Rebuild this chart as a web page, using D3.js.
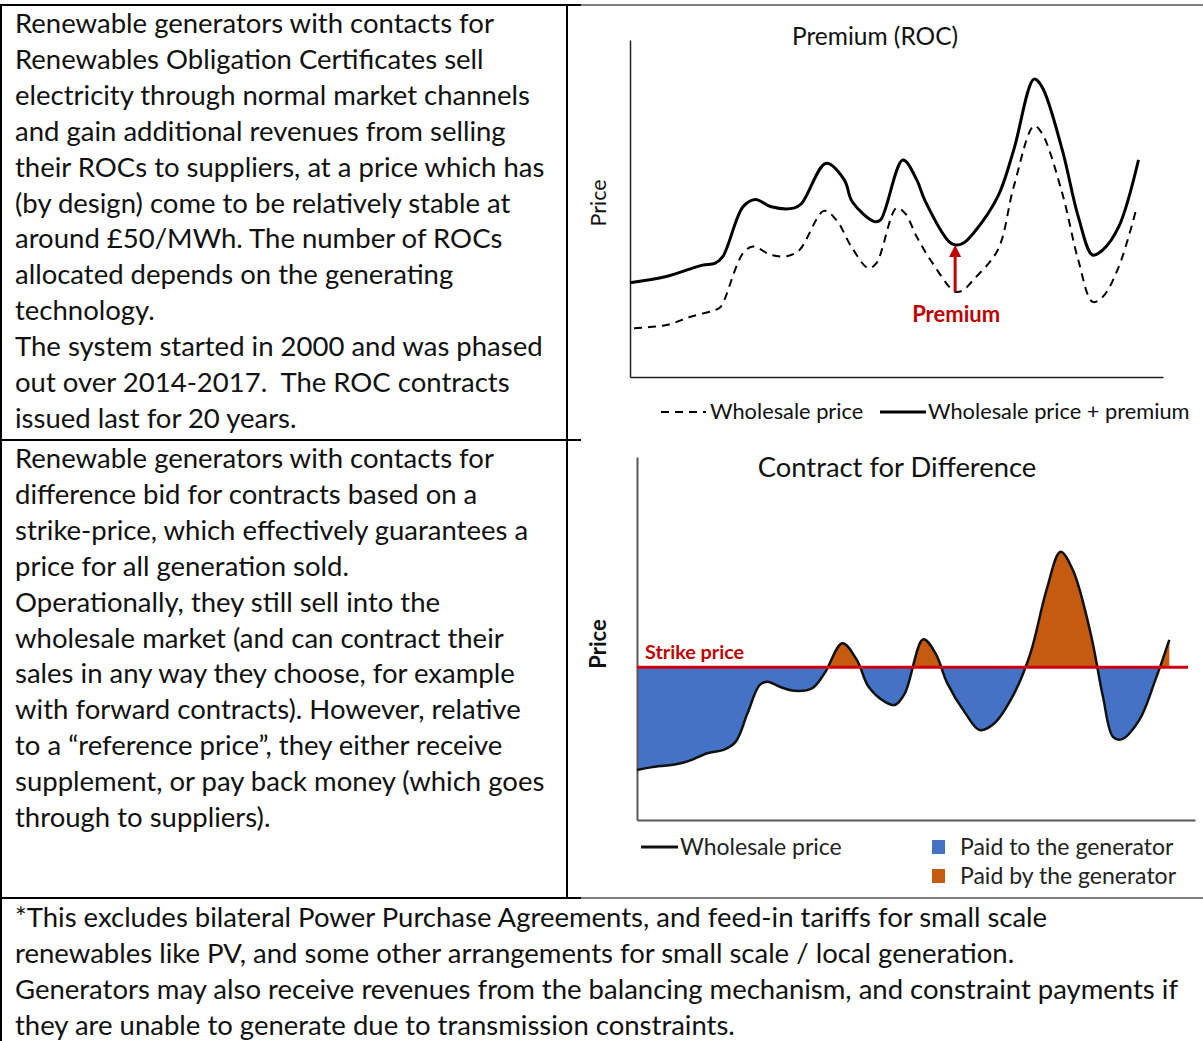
<!DOCTYPE html>
<html>
<head>
<meta charset="utf-8">
<script src="https://cdn.jsdelivr.net/npm/d3@7"></script>
<style>
  body { margin: 0; background: #fff; }
  text { font-family: Lato, "Open Sans", sans-serif; }
</style>
</head>
<body>
<script>
var width = 1203;
var height = 1041;

// --- text of the table cells ---
var rocText = [
  "Renewable generators with contacts for",
  "Renewables Obligation Certificates sell",
  "electricity through normal market channels",
  "and gain additional revenues from selling",
  "their ROCs to suppliers, at a price which has",
  "(by design) come to be relatively stable at",
  "around £50/MWh. The number of ROCs",
  "allocated depends on the generating",
  "technology.",
  "The system started in 2000 and was phased",
  "out over 2014-2017.  The ROC contracts",
  "issued last for 20 years."
];
var cfdText = [
  "Renewable generators with contacts for",
  "difference bid for contracts based on a",
  "strike-price, which effectively guarantees a",
  "price for all generation sold.",
  "Operationally, they still sell into the",
  "wholesale market (and can contract their",
  "sales in any way they choose, for example",
  "with forward contracts). However, relative",
  "to a \u201creference price\u201d, they either receive",
  "supplement, or pay back money (which goes",
  "through to suppliers)."
];
var noteText = [
  "*This excludes bilateral Power Purchase Agreements, and feed-in tariffs for small scale",
  "renewables like PV, and some other arrangements for small scale / local generation.",
  "Generators may also receive revenues from the balancing mechanism, and constraint payments if",
  "they are unable to generate due to transmission constraints."
];

// --- ROC chart series (time 0-100, price 0-100) ---
var rocPremiumTime = [0, 6.8, 13.6, 15.9, 17.4, 21.2, 23.5, 26.5, 30.7, 32.2, 36.8, 40.2, 41.7, 45.9, 47.0, 51.2, 53.8, 55.3, 59.9, 61.0, 62.5, 64.4, 69.0, 72.0, 75.8, 77.3, 81.1, 84.1, 86.8, 88.7, 91.7, 95.4];
var rocPremiumPrice = [28.0, 29.8, 33.2, 33.7, 35.7, 50.5, 52.7, 50.5, 50.1, 51.5, 63.4, 58.5, 52.0, 46.1, 46.6, 64.4, 58.5, 52.5, 40.1, 39.2, 39.7, 42.6, 53.5, 67.4, 88.4, 86.1, 67.4, 47.6, 36.2, 37.7, 44.6, 64.4];
var rocWholesaleTime = [0.75, 6.8, 11.4, 16.7, 17.4, 21.2, 23.1, 26.5, 29.6, 31.8, 36.4, 38.7, 41.7, 44.7, 46.2, 50.0, 51.6, 53.8, 56.8, 61.0, 62.5, 64.4, 69.0, 72.0, 75.8, 77.3, 81.1, 84.1, 86.8, 88.7, 91.7, 95.1];
var rocWholesalePrice = [14.5, 15.4, 17.9, 20.4, 21.8, 36.7, 38.7, 36.2, 35.9, 37.7, 49.3, 46.6, 38.2, 32.3, 33.7, 50.1, 48.6, 41.6, 33.7, 25.3, 25.8, 28.8, 37.7, 56.5, 74.5, 72.3, 54.5, 34.7, 22.3, 23.8, 32.7, 50.5];
var premiumArrow = { time: 61.0, from: 25.3, to: 39.2 };

// --- CfD chart series ---
var cfdTime = [0, 2.5, 7.2, 9.7, 12.6, 15.5, 17.7, 19.8, 22.0, 23.4, 25.6, 28.2, 31.4, 33.6, 36.8, 39.4, 41.5, 44.4, 46.2, 48.0, 51.3, 53.5, 55.6, 58.9, 61.4, 64.0, 67.6, 70.5, 73.4, 75.9, 78.1, 81.3, 83.5, 85.3, 86.8, 90.0, 92.9, 95.4];
var cfdPrice = [13.8, 14.5, 15.4, 16.5, 18.4, 19.3, 21.6, 29.4, 37.2, 38.1, 36.7, 35.6, 36.3, 40.4, 48.7, 44.1, 36.7, 32.6, 31.7, 34.9, 49.8, 45.9, 37.7, 29.3, 24.8, 26.6, 34.9, 45.9, 63.4, 73.9, 68.9, 51.4, 34.0, 22.9, 22.2, 27.5, 38.6, 49.6];
var strikePrice = 42.1;

var svg = d3.select('body')
  .append('svg')
  .attr('width', width)
  .attr('height', height);

// --- table grid ---
var grid = svg.append('g').attr('stroke', '#000');
grid.append('line').attr('x1', 0).attr('x2', 581).attr('y1', 5).attr('y2', 5).attr('stroke-width', 2);
grid.append('line').attr('x1', 581).attr('x2', 1203).attr('y1', 5).attr('y2', 5).attr('stroke-width', 1);
grid.append('line').attr('x1', 1).attr('x2', 1).attr('y1', 4).attr('y2', height).attr('stroke-width', 2);
grid.append('line').attr('x1', 567).attr('x2', 567).attr('y1', 4).attr('y2', 898).attr('stroke-width', 2);
grid.append('line').attr('x1', 0).attr('x2', 581).attr('y1', 440).attr('y2', 440).attr('stroke-width', 2);
grid.append('line').attr('x1', 0).attr('x2', 581).attr('y1', 898).attr('y2', 898).attr('stroke-width', 2);
grid.append('line').attr('x1', 581).attr('x2', 1203).attr('y1', 898).attr('y2', 898).attr('stroke-width', 1);

function writeLines(lines, x, y0, step) {
  svg.append('g')
    .selectAll('text')
    .data(lines)
    .enter()
    .append('text')
    .attr('x', x)
    .attr('y', function(d, i){ return y0 + i * step; })
    .style('font-size', '27.5px')
    .style('fill', '#111')
    .style('white-space', 'pre')
    .text(function(d){ return d; });
}
writeLines(rocText, 15, 33, 35.9);
writeLines(cfdText, 15, 468, 35.9);
writeLines(noteText, 15, 927, 35.9);

// ================= ROC chart =================
var rx = d3.scaleLinear().domain([0, 100]).range([630, 1163]);
var ry = d3.scaleLinear().domain([0, 100]).range([377, 40]);

svg.append('g')
  .attr('transform', 'translate(0,' + ry(0) + ')')
  .call(d3.axisBottom(rx).ticks(0).tickSizeOuter(0))
  .select('.domain').attr('stroke', '#222').attr('stroke-width', 1.5);
svg.append('g')
  .attr('transform', 'translate(' + rx(0) + ',0)')
  .call(d3.axisLeft(ry).ticks(0).tickSizeOuter(0))
  .select('.domain').attr('stroke', '#222').attr('stroke-width', 1.5);

var rocLine = d3.line()
  .x(function(d){ return rx(d[0]); })
  .y(function(d){ return ry(d[1]); })
  .curve(d3.curveCatmullRom.alpha(0.5));

svg.append('path')
  .datum(d3.zip(rocWholesaleTime, rocWholesalePrice))
  .attr('d', rocLine)
  .attr('fill', 'none')
  .attr('stroke', '#000')
  .attr('stroke-width', 2)
  .attr('stroke-dasharray', '8,6');
svg.append('path')
  .datum(d3.zip(rocPremiumTime, rocPremiumPrice))
  .attr('d', rocLine)
  .attr('fill', 'none')
  .attr('stroke', '#000')
  .attr('stroke-width', 3);

// premium arrow
var ax = rx(premiumArrow.time);
svg.append('line')
  .attr('x1', ax).attr('x2', ax)
  .attr('y1', ry(premiumArrow.from)).attr('y2', ry(premiumArrow.to) + 10)
  .attr('stroke', '#c00000')
  .attr('stroke-width', 3);
svg.append('path')
  .attr('d', 'M' + ax + ',' + ry(premiumArrow.to) + 'l-6,12h12z')
  .attr('fill', '#c00000');
svg.append('text')
  .text('Premium')
  .attr('x', ax + 1)
  .attr('y', 322)
  .attr('text-anchor', 'middle')
  .style('font-size', '22px')
  .style('font-weight', 'bold')
  .style('fill', '#c00000');

svg.append('text')
  .text('Premium (ROC)')
  .attr('x', 875)
  .attr('y', 45)
  .attr('text-anchor', 'middle')
  .style('font-size', '24.5px')
  .style('fill', '#111');
svg.append('text')
  .text('Price')
  .attr('text-anchor', 'middle')
  .attr('transform', 'translate(606,203)rotate(-90)')
  .style('font-size', '21.5px')
  .style('fill', '#111');

// legend
svg.append('line').attr('x1', 661).attr('x2', 706).attr('y1', 412).attr('y2', 412)
  .attr('stroke', '#000').attr('stroke-width', 2).attr('stroke-dasharray', '8,6');
svg.append('text').text('Wholesale price').attr('x', 710).attr('y', 419)
  .style('font-size', '21.8px').style('fill', '#111');
svg.append('line').attr('x1', 880).attr('x2', 926).attr('y1', 412).attr('y2', 412)
  .attr('stroke', '#000').attr('stroke-width', 3);
svg.append('text').text('Wholesale price + premium').attr('x', 928).attr('y', 419)
  .style('font-size', '21.8px').style('fill', '#111');

// ================= CfD chart =================
var cx = d3.scaleLinear().domain([0, 100]).range([637, 1195]);
var cy = d3.scaleLinear().domain([0, 100]).range([820, 457]);
var cfdData = d3.zip(cfdTime, cfdPrice);

var defs = svg.append('defs');
defs.append('clipPath').attr('id', 'above')
  .append('rect').attr('x', cx(0)).attr('y', cy(100))
  .attr('width', cx(100) - cx(0)).attr('height', cy(strikePrice) - cy(100));
defs.append('clipPath').attr('id', 'below')
  .append('rect').attr('x', cx(0)).attr('y', cy(strikePrice))
  .attr('width', cx(100) - cx(0)).attr('height', cy(0) - cy(strikePrice));

var cfdCurve = d3.curveCatmullRom.alpha(0.5);
var cfdArea = d3.area()
  .x(function(d){ return cx(d[0]); })
  .y0(cy(strikePrice))
  .y1(function(d){ return cy(d[1]); })
  .curve(cfdCurve);
var cfdLine = d3.line()
  .x(function(d){ return cx(d[0]); })
  .y(function(d){ return cy(d[1]); })
  .curve(cfdCurve);

svg.append('path').datum(cfdData).attr('d', cfdArea)
  .attr('fill', '#4472c4').attr('clip-path', 'url(#below)');
svg.append('path').datum(cfdData).attr('d', cfdArea)
  .attr('fill', '#c55a11').attr('clip-path', 'url(#above)');

svg.append('g')
  .attr('transform', 'translate(0,' + cy(0) + ')')
  .call(d3.axisBottom(cx).ticks(0).tickSizeOuter(0))
  .select('.domain').attr('stroke', '#595959').attr('stroke-width', 2);
svg.append('g')
  .attr('transform', 'translate(' + cx(0) + ',0)')
  .call(d3.axisLeft(cy).ticks(0).tickSizeOuter(0))
  .select('.domain').attr('stroke', '#595959').attr('stroke-width', 2);

svg.append('path').datum(cfdData).attr('d', cfdLine)
  .attr('fill', 'none').attr('stroke', '#111').attr('stroke-width', 2.5);

svg.append('line')
  .attr('x1', cx(0)).attr('x2', 1188)
  .attr('y1', cy(strikePrice)).attr('y2', cy(strikePrice))
  .attr('stroke', '#d00010').attr('stroke-width', 3);
svg.append('text')
  .text('Strike price')
  .attr('x', 645)
  .attr('y', 659)
  .style('font-size', '19.8px')
  .style('font-weight', 'bold')
  .style('fill', '#c00000');

svg.append('text')
  .text('Contract for Difference')
  .attr('x', 897)
  .attr('y', 477)
  .attr('text-anchor', 'middle')
  .style('font-size', '27.4px')
  .style('fill', '#111');
svg.append('text')
  .text('Price')
  .attr('text-anchor', 'middle')
  .attr('transform', 'translate(606,644)rotate(-90)')
  .style('font-size', '22px')
  .style('font-weight', 'bold')
  .style('fill', '#111');

// legend
svg.append('line').attr('x1', 641).attr('x2', 678).attr('y1', 847).attr('y2', 847)
  .attr('stroke', '#111').attr('stroke-width', 3);
svg.append('text').text('Wholesale price').attr('x', 680).attr('y', 855)
  .style('font-size', '23px').style('fill', '#222');
svg.append('rect').attr('x', 932).attr('y', 840).attr('width', 13).attr('height', 14).attr('fill', '#4472c4');
svg.append('text').text('Paid to the generator').attr('x', 960).attr('y', 855)
  .style('font-size', '23px').style('fill', '#222');
svg.append('rect').attr('x', 932).attr('y', 869).attr('width', 13).attr('height', 14).attr('fill', '#c55a11');
svg.append('text').text('Paid by the generator').attr('x', 960).attr('y', 884)
  .style('font-size', '23px').style('fill', '#222');
</script>
</body>
</html>
